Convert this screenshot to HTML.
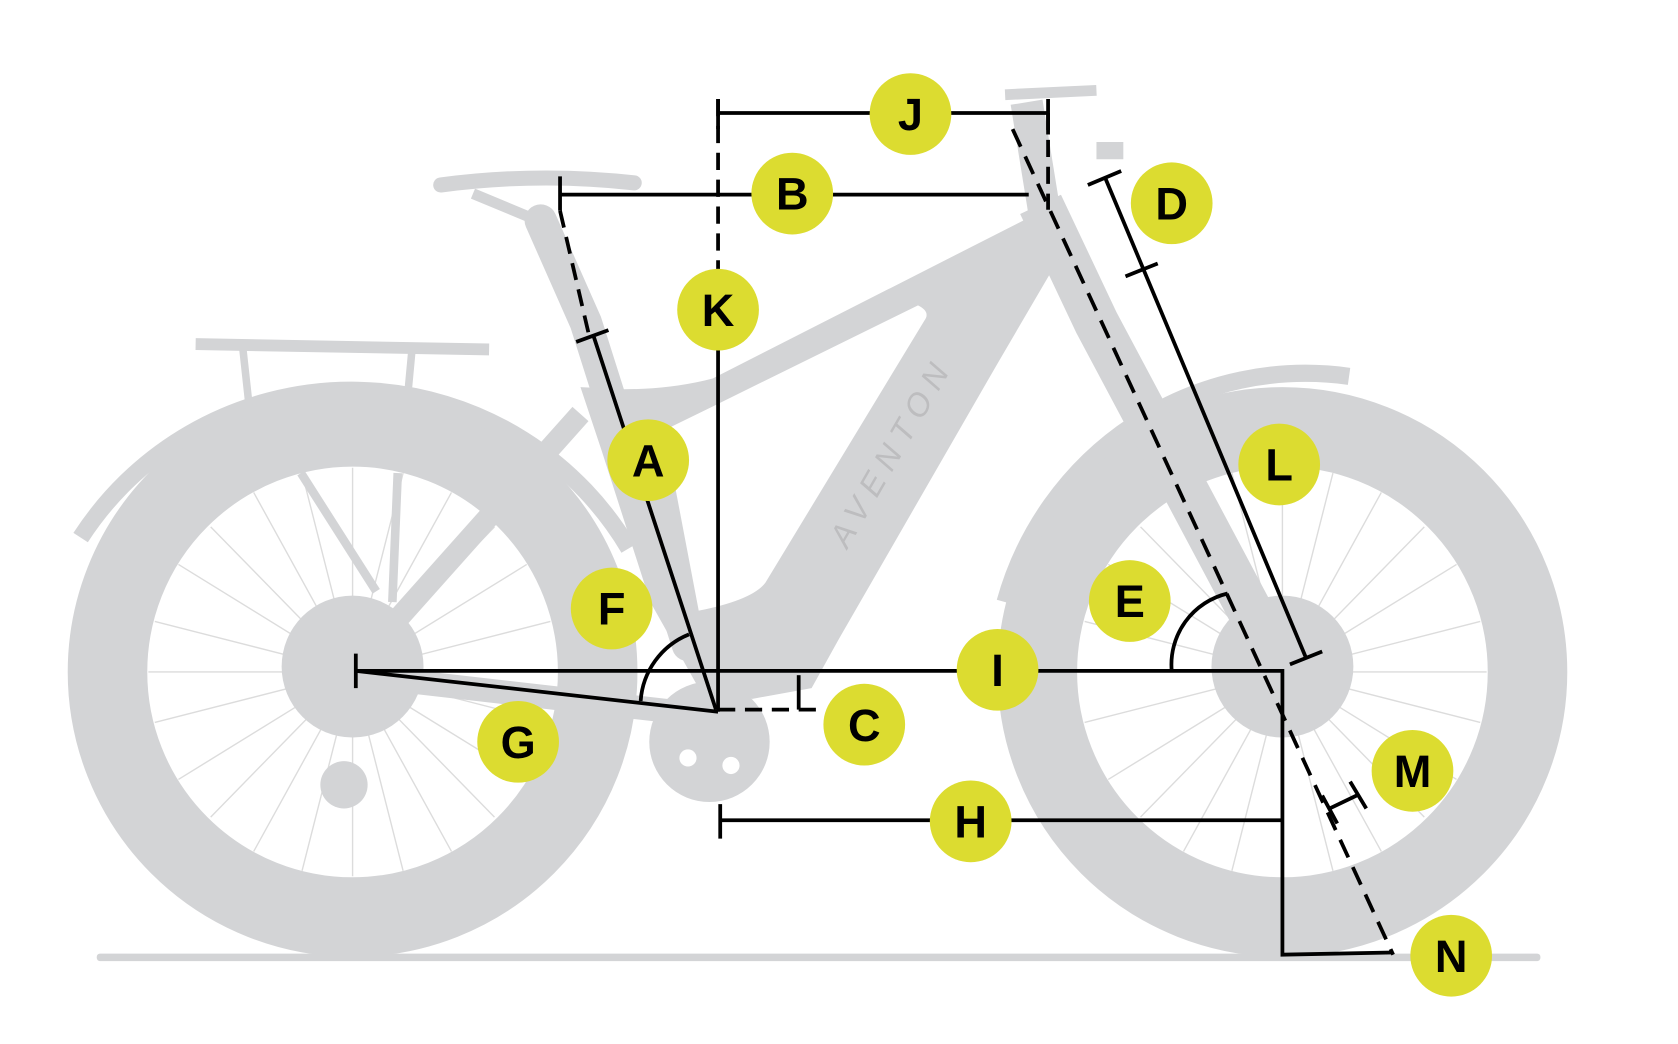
<!DOCTYPE html>
<html><head><meta charset="utf-8"><style>
html,body{margin:0;padding:0;background:#fff;width:1678px;height:1044px;overflow:hidden}
svg{display:block}
.t{font-family:"Liberation Sans",sans-serif;font-weight:bold;font-size:42px;fill:#000;text-anchor:middle}
</style></head><body>
<svg width="1678" height="1044" viewBox="0 0 1561 971" xmlns="http://www.w3.org/2000/svg">
<g fill="none" stroke="#d3d4d6">
 <g stroke="#dcdcdc" stroke-width="1.3">
  <path d="M328,625 L328,435 M328,625 L420,458 M328,625 L490,525 M328,625 L518,625 M328,625 L490,725 M328,625 L420,792 M328,625 L328,815 M328,625 L236,792 M328,625 L166,725 M328,625 L138,625 M328,625 L166,525 M328,625 L236,458 M328,625 L375,440 M328,625 L460,490 M328,625 L512,578 M328,625 L512,672 M328,625 L460,760 M328,625 L375,810 M328,625 L281,810 M328,625 L196,760 M328,625 L144,672 M328,625 L144,578 M328,625 L196,490 M328,625 L281,440"/>
  <path transform="translate(865,0)" d="M328,625 L328,435 M328,625 L420,458 M328,625 L490,525 M328,625 L518,625 M328,625 L490,725 M328,625 L420,792 M328,625 L328,815 M328,625 L236,792 M328,625 L166,725 M328,625 L138,625 M328,625 L166,525 M328,625 L236,458 M328,625 L375,440 M328,625 L460,490 M328,625 L512,578 M328,625 L512,672 M328,625 L460,760 M328,625 L375,810 M328,625 L281,810 M328,625 L196,760 M328,625 L144,672 M328,625 L144,578 M328,625 L196,490 M328,625 L281,440"/>
 </g>
 <circle cx="328" cy="625" r="228" stroke-width="74"/>
 <circle cx="1193" cy="625" r="228" stroke-width="74"/>
 <path d="M75,500 A300,300 0 0 1 585,510" stroke-width="16"/>
 <path d="M935,560 A290,290 0 0 1 1255,350" stroke-width="16"/>
 <path d="M182,320 L455,325" stroke-width="11"/>
 <path d="M226,325 L232,380 M383,328 L380,360" stroke-width="7"/>
 <path d="M335,615 L540,385" stroke-width="20"/>
 <path d="M280,440 L350,550" stroke-width="8"/>
 <path d="M370,440 L365,560" stroke-width="8"/>
 <path d="M330,628 L680,668" stroke-width="22"/>
 <path d="M503,205 L545,300 L640,600" stroke-width="30" stroke-linecap="round"/>
 <path d="M968,190 L1020,300 L1193,625" stroke-width="42"/>
 <path d="M955,95 L972,200" stroke-width="30"/>
 <path d="M935,88 L1020,84" stroke-width="10"/>
 <path d="M1020,140 L1045,140" stroke-width="16"/>
 <path d="M410,172 Q500,160 590,170" stroke-width="14" stroke-linecap="round"/>
 <path d="M440,180 L500,205" stroke-width="10"/>
</g>
<g fill="#d3d4d6">
 <path fill-rule="evenodd" d="M540,360 L580,362 Q625,362 663,352 L952,205 L990,232 L928,338 L780,595 L755,640 L700,650 L650,640 L605,560 L560,420 Z M854,284 Q866,290 860,298 L712,542 Q700,558 650,568 L618,400 L663,378 Z"/>
 <circle cx="660" cy="690" r="56"/>
 <circle cx="328" cy="620" r="66"/>
 <circle cx="1193" cy="620" r="66"/>
 <circle cx="320" cy="730" r="22"/>
 <rect x="90" y="887" width="1343" height="7" rx="3"/>
</g>
<g fill="#fff"><circle cx="640" cy="705" r="8"/><circle cx="680" cy="712" r="8"/><circle cx="625" cy="635" r="7"/></g>
<text x="0" y="0" transform="translate(838,425) rotate(-60)" font-family="Liberation Sans,sans-serif" font-size="30" fill="#bdbdbf" text-anchor="middle" letter-spacing="8" font-style="italic">AVENTON</text>
<g stroke="#000" stroke-width="3.5" fill="none">
 <path d="M668,105 L975,105 M668,92 L668,120 M975,92 L975,125"/>
 <path d="M668,92 L668,250 M975,105 L975,195" stroke-dasharray="16,9"/>
 <path d="M668,250 L668,662"/>
 <path d="M521,181 L957,181 M521,164 L521,196"/>
 <path d="M521,196 L548,312" stroke-dasharray="16,9"/>
 <path d="M536,318 L566,307 M552,312 L666,660"/>
 <path d="M942,120 L1296,888" stroke-dasharray="18,10"/>
 <path d="M1028,165 L1215,612 M1012,172 L1043,159 M1047,257 L1077,245 M1200,618 L1230,606"/>
 <path d="M331,624 L1193,624 L1193,888 L1295,886 M331,608 L331,640"/>
 <path d="M668,660 L760,660" stroke-dasharray="16,9"/>
 <path d="M743,628 L743,660"/>
 <path d="M331,624 L668,662"/>
 <path d="M596,652 A72,72 0 0 1 641,590"/>
 <path d="M1090,624 A68,68 0 0 1 1142,552"/>
 <path d="M670,763 L1192,763 M670,748 L670,780"/>
 <path d="M1237,752 L1264,739 M1230,740 L1244,766 M1256,727 L1271,752"/>
</g>
<g fill="#dcdc30">
 <circle cx="847" cy="106" r="38"/><circle cx="737" cy="180" r="38"/><circle cx="668" cy="288" r="38"/>
 <circle cx="1090" cy="189" r="38"/><circle cx="603" cy="428" r="38"/><circle cx="1190" cy="432" r="38"/>
 <circle cx="569" cy="566" r="38"/><circle cx="1051" cy="559" r="38"/><circle cx="928" cy="623" r="38"/>
 <circle cx="482" cy="690" r="38"/><circle cx="804" cy="674" r="38"/><circle cx="1314" cy="717" r="38"/>
 <circle cx="903" cy="764" r="38"/><circle cx="1350" cy="889" r="38"/>
</g>
<g class="t">
 <text x="847" y="121">J</text><text x="737" y="195">B</text><text x="668" y="303">K</text>
 <text x="1090" y="204">D</text><text x="603" y="443">A</text><text x="1190" y="447">L</text>
 <text x="569" y="581">F</text><text x="1051" y="574">E</text><text x="928" y="638">I</text>
 <text x="482" y="705">G</text><text x="804" y="689">C</text><text x="1314" y="732">M</text>
 <text x="903" y="779">H</text><text x="1350" y="904">N</text>
</g>
</svg>
</body></html>
